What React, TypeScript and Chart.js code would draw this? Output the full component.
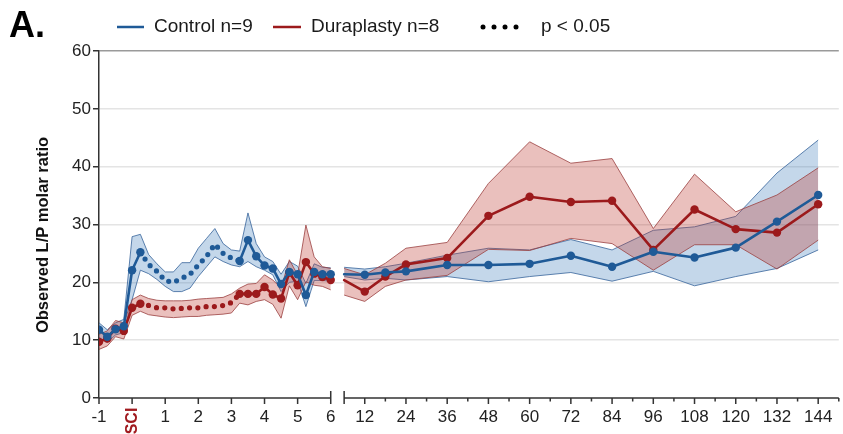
import { useEffect, useRef } from 'react';
import { Chart, registerables } from 'chart.js';

Chart.register(...registerables);

// ---------- data ----------
const seriesNames = ['Control n=9', 'Duraplasty n=8'];
const significanceLabel = 'p < 0.05';
const yAxisTitle = 'Observed L/P molar ratio';
const panelTitle = 'A.';

// Left panel: hours around injury (15 min steps)
const leftHours = [-1, -0.75, -0.5, -0.25, 0, 0.25, 0.5, 0.75, 1, 1.25, 1.5, 1.75, 2, 2.25, 2.5, 2.75, 3, 3.25, 3.5, 3.75, 4, 4.25, 4.5, 4.75, 5, 5.25, 5.5, 5.75, 6];
// 1 = p < 0.05 at that time point
const leftSignificant = [0, 0, 0, 0, 0, 0, 1, 1, 1, 1, 1, 1, 1, 1, 1, 1, 1, 0, 0, 0, 0, 0, 0, 0, 0, 0, 0, 0, 0];

const controlLeftMean = [11.8, 10.6, 11.9, 12.4, 22.1, 25.2, 23.1, 21.9, 20.3, 20.0, 20.7, 21.4, 23.0, 24.5, 26.6, 25.0, 24.2, 23.7, 27.3, 24.5, 22.9, 22.4, 19.7, 21.8, 21.4, 17.8, 21.8, 21.4, 21.4];
const controlLeftUpper = [13.0, 11.8, 13.0, 13.6, 27.9, 28.3, 24.8, 23.2, 21.8, 21.8, 23.4, 23.4, 25.9, 27.6, 29.3, 26.7, 25.6, 25.4, 32.0, 26.7, 24.4, 23.6, 21.4, 23.6, 22.8, 19.8, 23.2, 22.6, 22.5];
const controlLeftLower = [10.5, 9.6, 10.9, 11.3, 17.0, 22.1, 21.5, 20.5, 19.3, 18.4, 18.4, 19.0, 21.0, 22.7, 24.4, 23.6, 23.0, 22.7, 23.6, 22.7, 22.1, 21.3, 18.4, 20.0, 20.2, 15.8, 20.3, 20.3, 20.2];

const duraLeftMean = [9.7, 10.3, 12.0, 11.6, 15.6, 16.3, 16.0, 15.6, 15.6, 15.4, 15.5, 15.6, 15.6, 15.8, 15.8, 16.0, 16.5, 18.0, 18.0, 18.0, 19.2, 17.9, 17.2, 21.7, 19.5, 23.5, 21.5, 20.9, 20.4];
const duraLeftUpper = [11.0, 11.6, 13.4, 13.0, 17.0, 17.8, 17.2, 16.9, 16.8, 16.8, 16.8, 16.9, 17.1, 17.2, 17.3, 17.4, 18.0, 19.0, 19.7, 19.8, 21.3, 20.4, 19.0, 23.9, 21.3, 29.9, 24.4, 22.7, 22.4];
const duraLeftLower = [8.4, 9.0, 10.6, 10.2, 14.3, 15.0, 14.4, 14.2, 14.0, 13.9, 14.0, 14.1, 14.1, 14.3, 14.4, 14.5, 14.7, 16.4, 16.1, 16.7, 17.0, 16.2, 13.8, 19.4, 17.0, 20.1, 19.5, 19.3, 18.7];

// Right panel: hours 6 .. 144
const rightHours = [6, 12, 18, 24, 36, 48, 60, 72, 84, 96, 108, 120, 132, 144];
const controlRightMean = [21.4, 21.3, 21.7, 21.9, 23.0, 23.0, 23.2, 24.6, 22.7, 25.3, 24.3, 26.0, 30.5, 35.1];
const controlRightUpper = [22.6, 22.3, 22.7, 23.3, 24.7, 25.9, 25.6, 27.4, 25.6, 29.0, 29.6, 31.4, 38.9, 44.6];
const controlRightLower = [21.0, 20.4, 20.7, 20.4, 21.0, 20.1, 21.0, 21.7, 20.2, 21.9, 19.4, 21.0, 22.4, 25.6];

const duraRightMean = [20.4, 18.4, 21.0, 23.1, 24.2, 31.5, 34.8, 33.9, 34.1, 25.6, 32.6, 29.2, 28.6, 33.5];
const duraRightUpper = [22.4, 21.3, 23.3, 25.9, 26.9, 37.1, 44.3, 40.6, 41.4, 29.3, 38.7, 32.2, 35.1, 39.8];
const duraRightLower = [17.8, 16.7, 19.3, 20.4, 21.2, 25.7, 25.5, 27.6, 26.7, 22.1, 26.5, 26.5, 22.3, 27.3];

// Axis ticks
const leftTickHours = [-1, 0, 1, 2, 3, 4, 5, 6];
const leftTickLabels = ['-1', 'SCI', '1', '2', '3', '4', '5', '6'];
const rightTickHours = [12, 24, 36, 48, 60, 72, 84, 96, 108, 120, 132, 144];
const rightTickLabels = ['12', '24', '36', '48', '60', '72', '84', '96', '108', '120', '132', '144'];
const rightMinorTickHours = [18, 30, 42, 54, 66, 78, 90, 102, 114, 126, 138, 150];
const rightAxisEndHour = 150;
const yTicks = [0, 10, 20, 30, 40, 50, 60];

// ---------- styling / mapping ----------
const FONT = '"Liberation Sans", Arial, Helvetica, sans-serif';
const BLUE = '#1f5a97';
const RED = '#9c1a1c';
const BLUE_FILL = 'rgba(70,130,190,0.32)';
const RED_FILL = 'rgba(190,60,50,0.32)';
const BLUE_EDGE = 'rgba(55,100,155,0.8)';
const RED_EDGE = 'rgba(155,65,65,0.8)';
const SCI_RED = '#a11a1f';

// broken axis: left panel hours map 1:1, right panel compressed
const RIGHT_START = 6.405;
const RIGHT_SCALE = 0.10377;
const posLeft = (h: number) => h;
const posRight = (h: number) => RIGHT_START + (h - 6) * RIGHT_SCALE;

const pts = (hours: number[], vals: number[], f: (h: number) => number) =>
  hours.map((h, i) => ({ x: f(h), y: vals[i] }));

const sigSeg = (c: any) => !!(leftSignificant[c.p0DataIndex] || leftSignificant[c.p1DataIndex]);

function meanLeft(label: string, vals: number[], color: string) {
  return {
    label,
    data: pts(leftHours, vals, posLeft),
    borderColor: color,
    backgroundColor: color,
    borderWidth: 2.6,
    borderCapStyle: 'round',
    borderJoinStyle: 'round',
    pointRadius: (c: any) => (leftSignificant[c.dataIndex] ? 0 : 4.2),
    pointHoverRadius: (c: any) => (leftSignificant[c.dataIndex] ? 0 : 4.2),
    pointBorderWidth: 0,
    pointBackgroundColor: color,
    fill: false,
    tension: 0,
    segment: {
      borderDash: (c: any) => (sigSeg(c) ? [0, 8.3] : []),
      borderWidth: (c: any) => (sigSeg(c) ? 5.2 : 2.6),
    },
  };
}

function meanRight(label: string, vals: number[], color: string) {
  return {
    label,
    data: pts(rightHours, vals, posRight),
    borderColor: color,
    backgroundColor: color,
    borderWidth: 2.6,
    borderCapStyle: 'round',
    borderJoinStyle: 'round',
    pointRadius: (c: any) => (c.dataIndex === 0 ? 0 : 4.2),
    pointHoverRadius: (c: any) => (c.dataIndex === 0 ? 0 : 4.2),
    pointBorderWidth: 0,
    pointBackgroundColor: color,
    fill: false,
    tension: 0,
  };
}

function bandEdge(label: string, hours: number[], vals: number[], f: (h: number) => number, edge: string, fill: any, bg: string) {
  return {
    label,
    data: pts(hours, vals, f),
    borderColor: edge,
    backgroundColor: bg,
    borderWidth: 1,
    pointRadius: 0,
    pointHoverRadius: 0,
    fill,
    tension: 0,
  };
}

const decorPlugin = {
  id: 'decor',
  afterDraw(chart: any) {
    const { ctx, scales } = chart;
    const x = scales.x;
    const y = scales.y;
    const base = y.getPixelForValue(0);
    ctx.save();

    // x axis (broken)
    ctx.strokeStyle = '#333';
    ctx.lineWidth = 1.5;
    const l0 = x.getPixelForValue(posLeft(leftHours[0]));
    const l1 = x.getPixelForValue(posLeft(leftHours[leftHours.length - 1]));
    const r0 = x.getPixelForValue(posRight(rightHours[0]));
    const r1 = x.getPixelForValue(posRight(rightAxisEndHour));
    ctx.beginPath();
    ctx.moveTo(l0, base); ctx.lineTo(l1, base);
    ctx.moveTo(r0, base); ctx.lineTo(r1, base);
    leftTickHours.forEach((h) => {
      const px = x.getPixelForValue(posLeft(h));
      ctx.moveTo(px, base); ctx.lineTo(px, base + 6);
    });
    [l1, r0].forEach((px) => { ctx.moveTo(px, base - 7); ctx.lineTo(px, base + 6); });
    rightTickHours.forEach((h) => {
      const px = x.getPixelForValue(posRight(h));
      ctx.moveTo(px, base); ctx.lineTo(px, base + 6);
    });
    rightMinorTickHours.forEach((h) => {
      const px = x.getPixelForValue(posRight(h));
      ctx.moveTo(px, base); ctx.lineTo(px, base + 3.5);
    });
    ctx.stroke();

    // SCI label
    const sx = x.getPixelForValue(posLeft(leftTickHours[1]));
    ctx.save();
    ctx.translate(sx, base + 23);
    ctx.rotate(-Math.PI / 2);
    ctx.fillStyle = SCI_RED;
    ctx.font = `bold 16px ${FONT}`;
    ctx.textAlign = 'center';
    ctx.textBaseline = 'middle';
    ctx.fillText(leftTickLabels[1], 0, 0);
    ctx.restore();

    // y title
    ctx.save();
    ctx.translate(43, 235);
    ctx.rotate(-Math.PI / 2);
    ctx.fillStyle = '#111';
    ctx.font = `bold 16.5px ${FONT}`;
    ctx.textAlign = 'center';
    ctx.textBaseline = 'middle';
    ctx.fillText(yAxisTitle, 0, 0);
    ctx.restore();

    // panel title
    ctx.fillStyle = '#000';
    ctx.font = `bold 36px ${FONT}`;
    ctx.textAlign = 'left';
    ctx.textBaseline = 'alphabetic';
    ctx.fillText(panelTitle, 9, 37);

    // legend
    const ly = 27;
    ctx.font = `19px ${FONT}`;
    ctx.textBaseline = 'middle';
    ctx.fillStyle = '#1a1a1a';
    ctx.lineWidth = 2.5;
    ctx.strokeStyle = BLUE;
    ctx.beginPath(); ctx.moveTo(117, ly); ctx.lineTo(144, ly); ctx.stroke();
    ctx.fillText(seriesNames[0], 154, ly);
    ctx.strokeStyle = RED;
    ctx.beginPath(); ctx.moveTo(273, ly); ctx.lineTo(301, ly); ctx.stroke();
    ctx.fillText(seriesNames[1], 311, ly);
    ctx.fillStyle = '#000';
    [483, 494, 505, 516].forEach((dx) => {
      ctx.beginPath(); ctx.arc(dx, ly, 2.5, 0, Math.PI * 2); ctx.fill();
    });
    ctx.fillStyle = '#1a1a1a';
    ctx.fillText(significanceLabel, 541, ly);

    ctx.restore();
  },
};

const tickPositions = [
  ...leftTickHours.map(posLeft),
  ...rightTickHours.map(posRight),
];
const tickTexts = [
  ...leftTickLabels.map((t, i) => (i === 1 ? '' : t)),
  ...rightTickLabels,
];

export default function App() {
  const ref = useRef<HTMLCanvasElement | null>(null);

  useEffect(() => {
    document.body.style.margin = '0';
    const canvas = ref.current;
    if (!canvas) return;
    Chart.defaults.font.family = FONT;

    const datasets: any[] = [
      meanLeft(seriesNames[0], controlLeftMean, BLUE), // 0
      meanRight(seriesNames[0], controlRightMean, BLUE), // 1
      meanLeft(seriesNames[1], duraLeftMean, RED), // 2
      meanRight(seriesNames[1], duraRightMean, RED), // 3
      bandEdge('dl-lower', leftHours, duraLeftLower, posLeft, RED_EDGE, false, RED_FILL), // 4
      bandEdge('dl-upper', leftHours, duraLeftUpper, posLeft, RED_EDGE, 4, RED_FILL), // 5
      bandEdge('dr-lower', rightHours, duraRightLower, posRight, RED_EDGE, false, RED_FILL), // 6
      bandEdge('dr-upper', rightHours, duraRightUpper, posRight, RED_EDGE, 6, RED_FILL), // 7
      bandEdge('cl-lower', leftHours, controlLeftLower, posLeft, BLUE_EDGE, false, BLUE_FILL), // 8
      bandEdge('cl-upper', leftHours, controlLeftUpper, posLeft, BLUE_EDGE, 8, BLUE_FILL), // 9
      bandEdge('cr-lower', rightHours, controlRightLower, posRight, BLUE_EDGE, false, BLUE_FILL), // 10
      bandEdge('cr-upper', rightHours, controlRightUpper, posRight, BLUE_EDGE, 10, BLUE_FILL), // 11
    ];

    const chart = new Chart(canvas, {
      type: 'line',
      data: { datasets },
      plugins: [decorPlugin],
      options: {
        responsive: false,
        animation: false,
        events: [],
        layout: { padding: { top: 51, right: 3, left: 0, bottom: 0 } },
        plugins: {
          legend: { display: false },
          tooltip: { enabled: false },
          title: { display: false },
        },
        scales: {
          x: {
            type: 'linear',
            min: posLeft(leftHours[0]),
            max: posRight(rightAxisEndHour),
            afterFit: (s: any) => { s.height = 36; },
            afterBuildTicks: (s: any) => { s.ticks = tickPositions.map((v) => ({ value: v })); },
            grid: { display: false, drawTicks: false },
            border: { display: false },
            ticks: {
              autoSkip: false,
              maxRotation: 0,
              minRotation: 0,
              padding: 9,
              color: '#222',
              font: { size: 17, family: FONT },
              callback: (_v: any, i: number) => tickTexts[i],
            },
          },
          y: {
            type: 'linear',
            min: yTicks[0],
            max: yTicks[yTicks.length - 1],
            afterFit: (s: any) => { s.width = 99; },
            afterBuildTicks: (s: any) => { s.ticks = yTicks.map((v) => ({ value: v })); },
            border: { display: true, color: '#333', width: 1.5 },
            grid: {
              color: (c: any) => (c.tick && c.tick.value === 60 ? '#9a9a9a' : c.tick && c.tick.value === 0 ? 'rgba(0,0,0,0)' : '#e4e4e4'),
              lineWidth: 1.5,
              drawTicks: true,
              tickLength: 6,
              tickColor: '#333',
              tickWidth: 1.5,
            },
            ticks: {
              padding: 2,
              color: '#222',
              font: { size: 17, family: FONT },
            },
          },
        },
      } as any,
    });

    return () => chart.destroy();
  }, []);

  return (
    <div style={{ width: 843, height: 434 }}>
      <canvas ref={ref} width={843} height={434} style={{ display: 'block' }} />
    </div>
  );
}
